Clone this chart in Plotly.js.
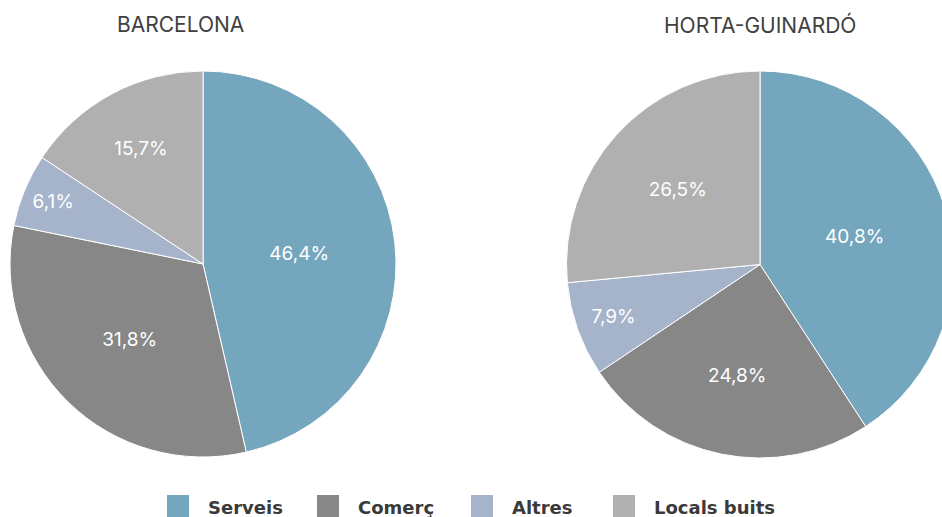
<!DOCTYPE html>
<html><head><meta charset="utf-8">
<script src="https://cdn.plot.ly/plotly-3.0.1.min.js"></script>
<style>html,body{margin:0;padding:0;overflow:hidden;background:#fff;width:942px;height:517px}#chart{width:1000px;height:517px}</style>
</head><body><div id="chart"></div>
<script>
const categories = ['Serveis', 'Comerç', 'Altres', 'Locals buits'];
const barcelonaValues = [46.4, 31.8, 6.1, 15.7];
const hortaValues = [40.8, 24.8, 7.9, 26.5];
const panelTitles = ['BARCELONA', 'HORTA-GUINARDÓ'];
const colors = ['#74a6bd', '#878787', '#a5b4ca', '#b0b0b0'];

const W = 1000, H = 517;
const legendTextX = [208, 358, 512, 654];   // legend layout (px)
const legendY = 507;

function px(x) { return x / W; }
function py(y) { return 1 - y / H; }
function dom(x0, x1, y0, y1) { return {x: [px(x0), px(x1)], y: [py(y1), py(y0)]}; }

const common = {
  type: 'pie', labels: categories, sort: false, direction: 'clockwise', rotation: 0,
  marker: {colors: colors, line: {color: '#ffffff', width: 1}},
  textinfo: 'text', texttemplate: '%{value:.1f}%', textposition: 'inside',
  insidetextorientation: 'horizontal',
  insidetextfont: {color: '#ffffff', size: 19, family: 'Inter, sans-serif'},
  hoverinfo: 'none', showlegend: false
};

const data = [
  Object.assign({}, common, {values: barcelonaValues, domain: dom(10, 396, 71, 457), name: panelTitles[0]}),
  Object.assign({}, common, {values: hortaValues, domain: dom(566, 954, 71, 458), name: panelTitles[1]})
];

const annotations = [
  {text: panelTitles[0], x: px(180), y: py(25)},
  {text: panelTitles[1], x: px(760), y: py(25)}
].map(a => Object.assign(a, {xref: 'paper', yref: 'paper', showarrow: false, xanchor: 'center', yanchor: 'middle',
  font: {size: 21, color: '#404040', family: 'Inter, sans-serif'}}));

const shapes = [];
categories.forEach(function (c, i) {
  annotations.push({text: '<b>' + c + '</b>', x: px(legendTextX[i]), y: py(legendY), xref: 'paper', yref: 'paper',
    showarrow: false, xanchor: 'left', yanchor: 'middle', xshift: -2,
    font: {size: 18, color: '#3a3a3a', family: 'DejaVu Sans, sans-serif'}});
  shapes.push({type: 'rect', xref: 'paper', yref: 'paper', x0: px(legendTextX[i] - 41), x1: px(legendTextX[i] - 19),
    y0: py(517), y1: py(495), fillcolor: colors[i], line: {width: 0}});
});

const layout = {
  width: W, height: H, margin: {l: 0, r: 0, t: 0, b: 0},
  paper_bgcolor: '#ffffff', separators: ',.',
  font: {family: 'Inter, sans-serif', color: '#333333'},
  showlegend: false, annotations: annotations, shapes: shapes
};

Plotly.newPlot('chart', data, layout, {staticPlot: true});
</script></body></html>
